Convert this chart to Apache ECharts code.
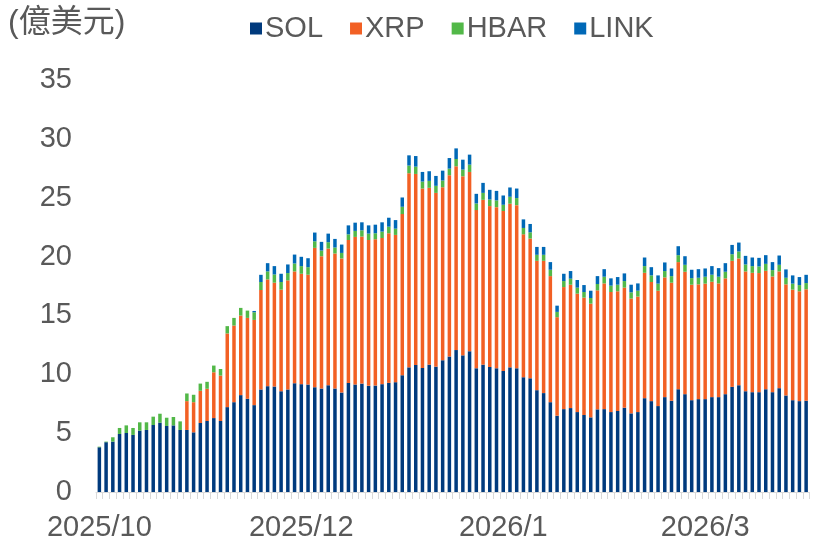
<!DOCTYPE html>
<html>
<head>
<meta charset="utf-8">
<script src="https://cdn.jsdelivr.net/npm/echarts@6/dist/echarts.min.js"></script>
<style>
html,body{margin:0;padding:0;background:#fff;}
#chart{width:818px;height:542px;}
</style>
</head>
<body>
<div id="chart"></div>
<script>
const unitLabel = '(億美元)';
const seriesNames = ['SOL', 'XRP', 'HBAR', 'LINK'];
const tickLabels = ['2025/10', '2025/12', '2026/1', '2026/3'];
const tickEvery = 30;

const SOL = [3.80,4.23,4.28,4.93,5.01,4.85,5.21,5.27,5.69,5.89,5.61,5.66,5.27,5.27,5.07,5.86,6.03,6.28,6.03,7.21,
7.63,8.23,7.92,7.38,8.71,8.99,8.96,8.56,8.71,9.24,9.16,9.13,8.90,8.79,9.07,8.79,8.45,9.27,9.13,9.21,
9.02,9.04,9.16,9.27,9.33,9.92,10.59,10.79,10.54,10.82,10.65,11.19,11.52,12.06,11.61,11.95,10.51,10.82,10.62,10.51,
10.28,10.59,10.51,9.75,9.66,8.65,8.40,7.63,6.48,7.04,7.13,6.79,6.54,6.34,7.02,7.04,6.79,6.88,7.16,6.68,
6.79,7.97,7.72,7.30,8.06,7.75,8.73,8.31,7.80,7.89,7.89,8.06,8.06,8.31,8.93,9.07,8.56,8.48,8.48,8.73,
8.48,8.82,8.20,7.80,7.72,7.75];

const XRP = [0,0,0,0,0,0,0,0,0,0,0,0,0,2.45,2.56,2.74,2.74,3.89,3.86,6.26,
6.51,6.76,6.87,7.24,8.45,9.07,8.82,8.63,9.27,9.50,9.38,9.33,11.84,11.24,11.61,11.47,11.39,12.14,12.54,12.49,
12.39,12.43,12.42,12.71,12.51,13.69,16.49,16.23,15.24,15.02,14.76,14.70,15.39,15.61,15.21,15.24,13.44,14.00,13.67,13.69,
13.59,13.90,13.86,12.14,11.87,10.99,11.24,10.71,8.37,10.37,10.48,10.06,9.97,9.66,10.11,10.68,10.20,10.17,10.20,9.75,
9.81,10.65,10.12,9.80,10.17,10.03,10.80,10.40,9.81,9.75,9.81,9.80,9.66,9.84,10.71,10.77,10.18,10.14,10.12,10.06,
9.83,9.92,9.44,9.39,9.33,9.47];

const HBAR = [0.05,0.05,0.37,0.51,0.65,0.59,0.71,0.65,0.71,0.76,0.70,0.71,0.73,0.65,0.63,0.61,0.59,0.57,0.56,0.62,
0.65,0.65,0.62,0.65,0.68,0.68,0.70,0.65,0.62,0.67,0.65,0.64,0.56,0.48,0.54,0.51,0.47,0.48,0.51,0.53,
0.54,0.51,0.54,0.56,0.53,0.62,0.65,0.62,0.59,0.59,0.60,0.57,0.56,0.62,0.57,0.62,0.56,0.59,0.56,0.57,
0.53,0.59,0.60,0.54,0.53,0.51,0.51,0.54,0.45,0.51,0.51,0.51,0.48,0.48,0.54,0.57,0.54,0.56,0.56,0.53,
0.50,0.57,0.56,0.60,0.54,0.56,0.59,0.59,0.56,0.56,0.59,0.60,0.57,0.56,0.56,0.59,0.59,0.57,0.56,0.59,
0.54,0.56,0.56,0.51,0.53,0.53];

const LINK = [0,0,0,0,0,0,0,0,0,0,0,0,0,0,0,0,0,0,0,0,
0,0,0,0.11,0.61,0.70,0.71,0.70,0.73,0.76,0.79,0.76,0.74,0.74,0.73,0.73,0.71,0.76,0.70,0.68,
0.70,0.73,0.79,0.76,0.73,0.79,0.87,0.90,0.82,0.82,0.84,0.84,0.90,0.90,0.84,0.85,0.82,0.85,0.82,0.81,
0.79,0.79,0.81,0.73,0.71,0.67,0.67,0.65,0.53,0.62,0.65,0.65,0.59,0.62,0.67,0.64,0.62,0.65,0.65,0.65,
0.62,0.73,0.70,0.70,0.73,0.65,0.76,0.73,0.71,0.73,0.70,0.73,0.73,0.73,0.79,0.76,0.73,0.73,0.73,0.74,
0.68,0.79,0.71,0.70,0.68,0.70];

const colors = ['#003A7D', '#F26024', '#52B848', '#0068B6'];
const categories = SOL.map((_, i) => String(i));
const values = [SOL, XRP, HBAR, LINK];

const chart = echarts.init(document.getElementById('chart'), null, {renderer: 'canvas'});
const font = 'Liberation Sans, Arial, sans-serif';
chart.setOption({
  animation: false,
  color: colors,
  graphic: [{
    type: 'text', left: 8, top: 7,
    style: {text: unitLabel, fontSize: 32, fill: '#595959', fontFamily: 'Liberation Sans, "Noto Sans CJK TC", sans-serif'}
  }],
  legend: {
    data: seriesNames,
    left: 245, top: 9,
    itemWidth: 12, itemHeight: 12, itemGap: 27,
    icon: 'rect',
    textStyle: {fontSize: 29, color: '#595959', fontFamily: font, padding: [0, 0, 0, -2]}
  },
  grid: {left: 96, right: 8.5, top: 80, bottom: 48, containLabel: false},
  xAxis: {
    type: 'category',
    data: categories,
    axisLine: {lineStyle: {color: '#D9D9D9', width: 1}},
    axisTick: {show: true, interval: 0, length: 7, lineStyle: {color: '#D9D9D9'}},
    axisLabel: {
      interval: tickEvery - 1,
      margin: 21,
      fontSize: 29, color: '#595959', fontFamily: font,
      formatter: (v, i) => tickLabels[Math.round(i / tickEvery)] || ''
    }
  },
  yAxis: {
    type: 'value', min: 0, max: 35, interval: 5,
    axisLine: {show: false}, axisTick: {show: false}, splitLine: {show: false},
    axisLabel: {fontSize: 29, color: '#595959', fontFamily: font, margin: 24, padding: [5, 0, 0, 0]}
  },
  series: seriesNames.map((name, k) => ({
    name, type: 'bar', stack: 'total', barWidth: 3.5,
    data: values[k],
    itemStyle: {color: colors[k]}
  }))
});
</script>
</body>
</html>
